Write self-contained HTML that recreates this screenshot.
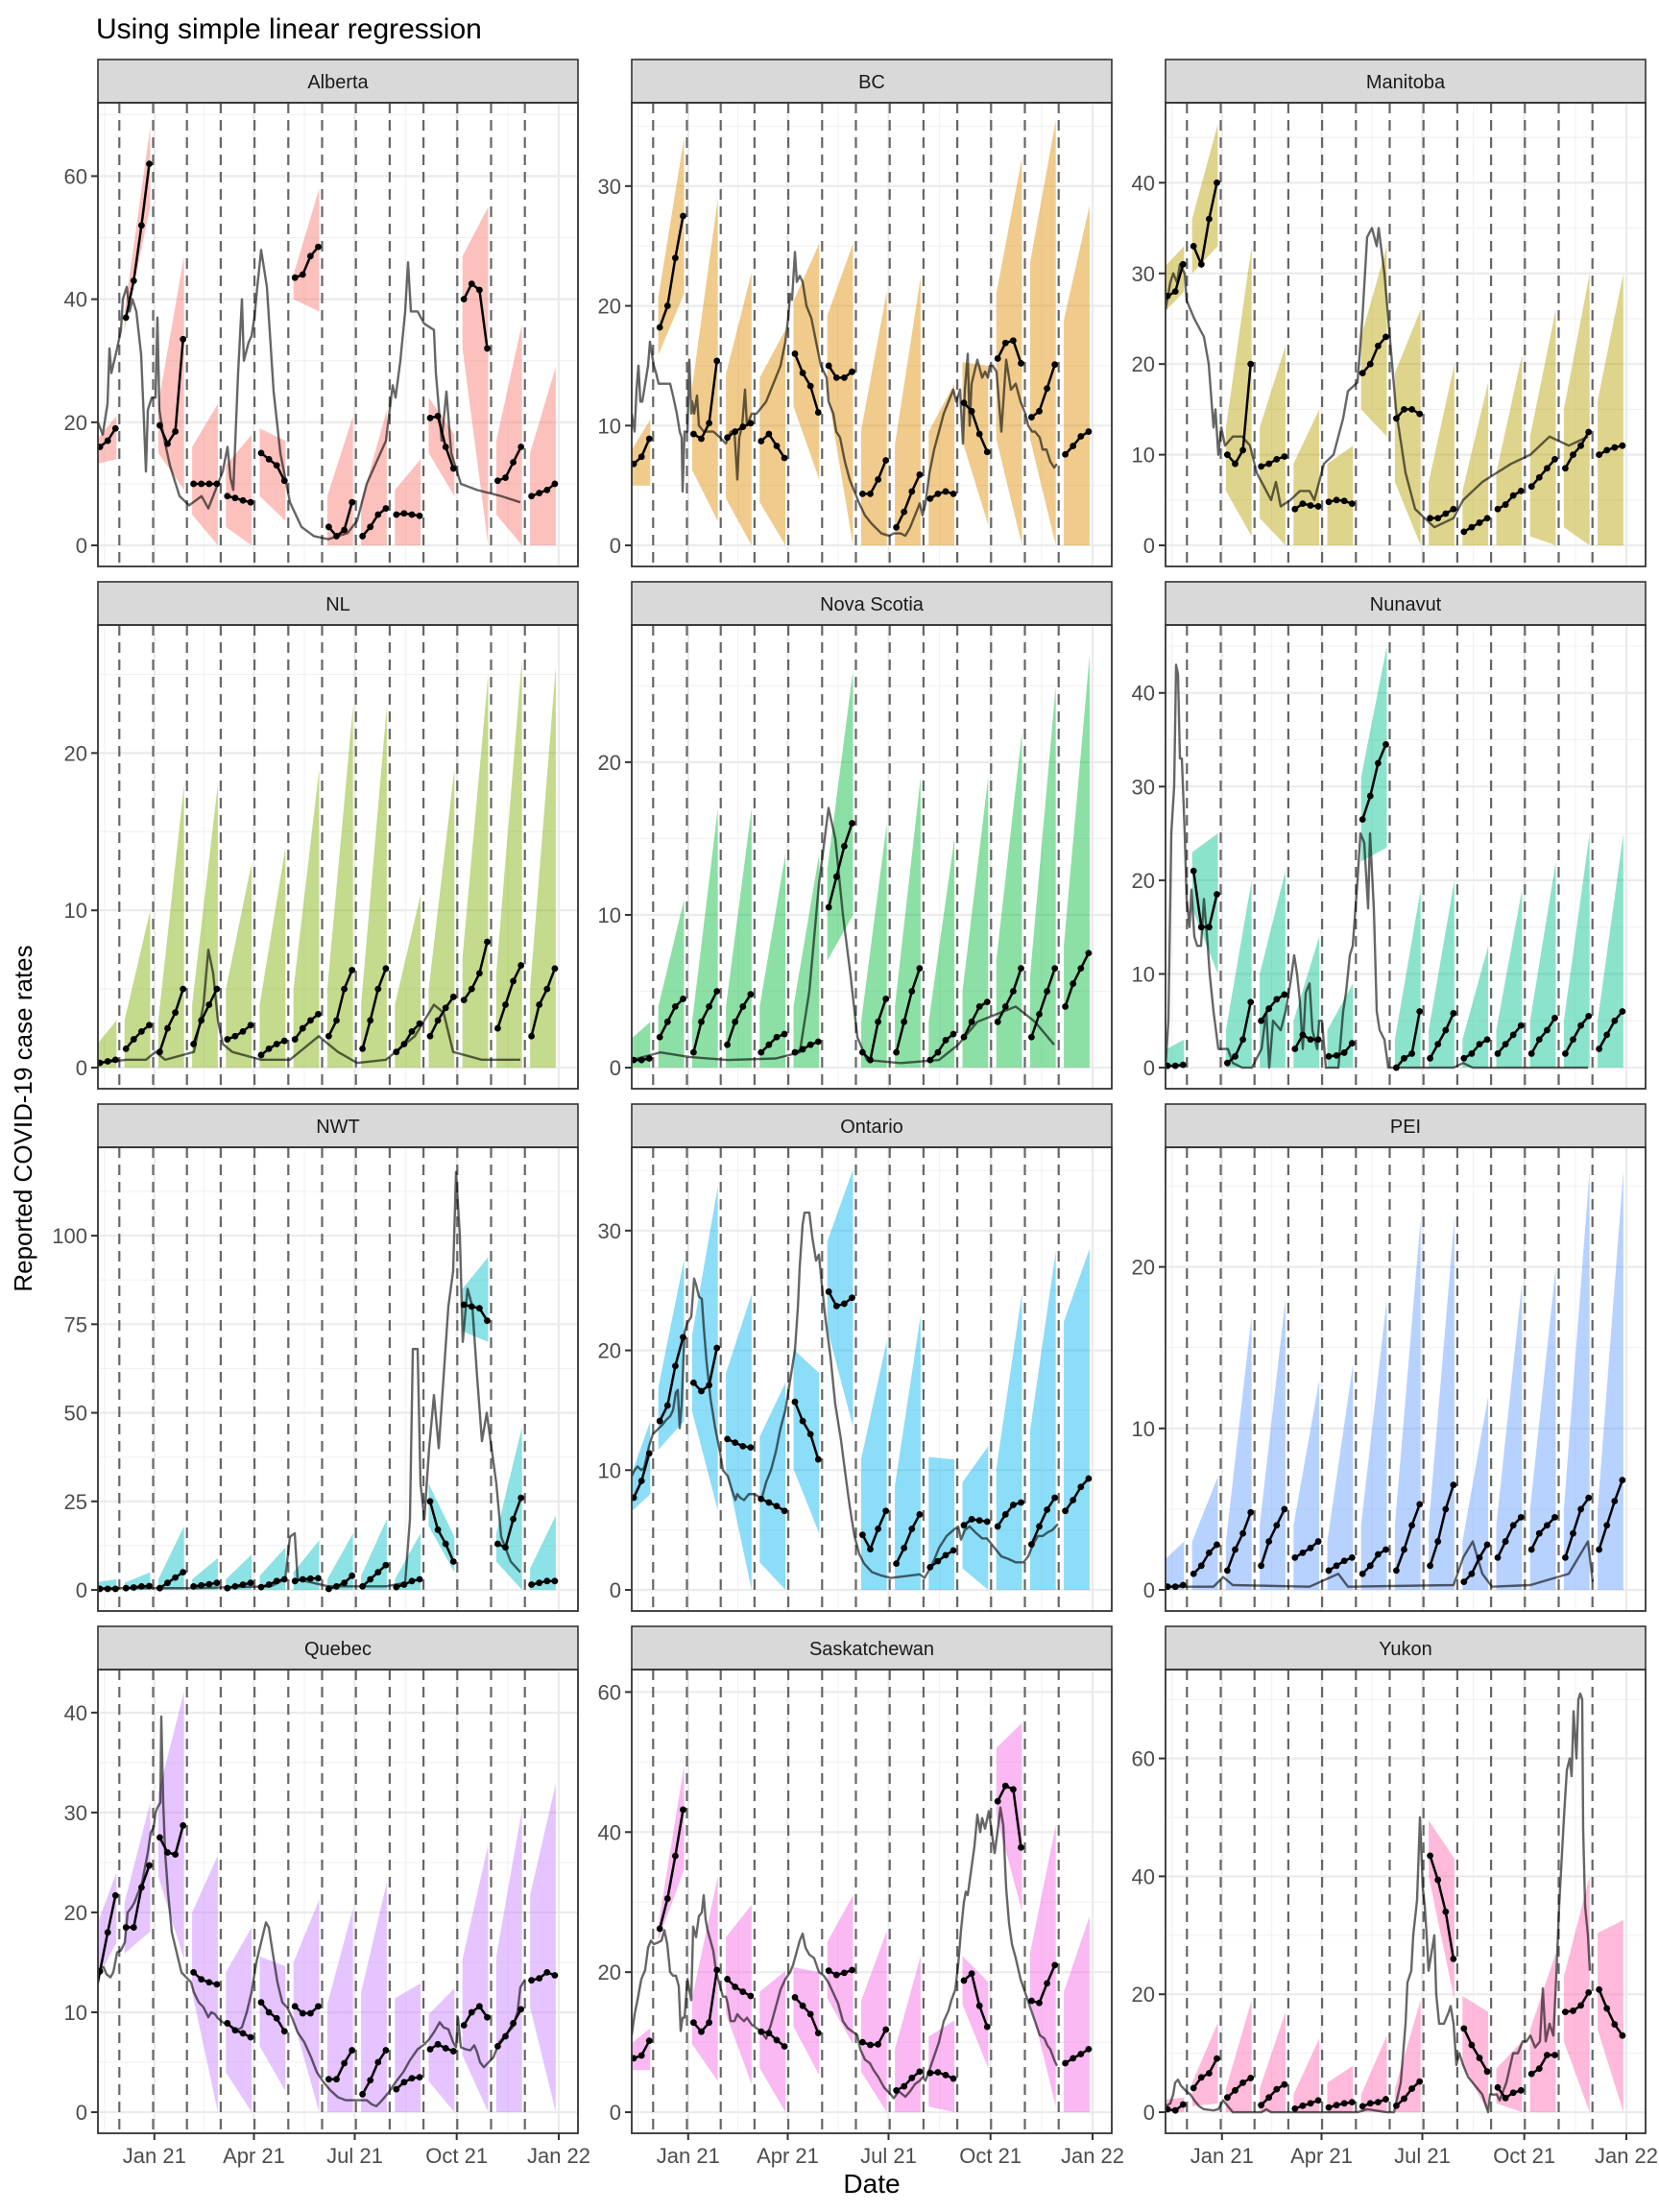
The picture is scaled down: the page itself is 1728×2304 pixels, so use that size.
<!DOCTYPE html>
<html><head><meta charset="utf-8">
<style>
html,body{margin:0;padding:0;background:#fff;}
svg{display:block;font-family:"Liberation Sans",Arial,sans-serif;}
</style></head>
<body>
<svg id="s" width="1728" height="2304" viewBox="0 0 1728 2304" xmlns="http://www.w3.org/2000/svg">
<rect width="1728" height="2304" fill="#fff"/>
<text x="100" y="40" font-size="30" fill="#000">Using simple linear regression</text>
<text x="908" y="2284" font-size="28" text-anchor="middle" fill="#000">Date</text>
<text transform="translate(33,1165) rotate(-90)" font-size="26" text-anchor="middle" fill="#000">Reported COVID-19 case rates</text>
</svg>
<script>
var svg=document.getElementById('s');
var NS='http://www.w3.org/2000/svg';
function el(t,a,p){var e=document.createElementNS(NS,t);for(var k in a)e.setAttribute(k,a[k]);(p||svg).appendChild(e);return e;}
var P=[
{n:"Alberta",c:"#F8766D",M:68.5,t:[0,20,40,60],
g:[[0,20],[5,18],[10,23],[12,32],[14,28],[20,32],[24,35],[26,40],[30,42],[33,38],[36,40],[40,38],[45,31],[48,20],[50,12],[52,22],[56,24],[60,24],[62,37],[64,22],[68,18],[75,13],[85,8],[95,6.5],[108,8],[115,6],[130,12],[135,16],[138,11],[141,9],[146,28],[150,40],[152,30],[157,33],[160,34],[163,37],[166,42],[170,48],[176,42],[183,25],[190,15],[200,7],[212,3],[225,1.5],[240,1],[260,2],[270,4],[280,10],[300,17],[307,26],[310,24],[315,30],[320,38],[323,46],[326,38],[333,38],[340,36],[350,35],[352,28],[358,17],[363,25],[368,15],[378,10],[395,9],[420,8],[440,7]],
s:[[15,16,17,19,13,16,14,21],[37,43,52,62,35,38,55,68],[19.5,16.5,18.5,33.5,15,23,9,47],[10,10,10,10,5,16,0,23],[8,7.7,7.3,7,3,13,0,18],[15,14,13,10.5,8,19,4,17],[43.5,44,47,48.5,40,44,38,58],[3,1.5,2.5,7,0,8,0,21],[1.5,3,5,6,0,7,0,22],[5,5.2,5,4.8,0,9,0,14],[20.7,21,16,12.5,15,24,8,18],[40,42.5,41.5,32,32,47,0,55],[10.5,11,13.5,16,5,17,0,36],[8,8.5,9,10,0,15,0,29]]},
{n:"BC",c:"#DE8C00",M:35.2,t:[0,10,20,30],
g:[[0,11],[3,9.5],[5,13],[7,15],[9,12],[11,12],[13,13],[15,14],[17,15],[19,17],[21,16],[23,15],[25,14.5],[28,13.5],[32,13.5],[36,13.5],[40,13.5],[43,12.5],[47,11],[50,9.5],[52,9],[53,4.5],[55,9.5],[58,9.5],[60,15.5],[62,11],[63,12],[65,11],[68,12.5],[70,10],[75,9.5],[85,9.5],[92,9],[98,8.5],[103,9.5],[107,9.5],[110,5.5],[112,9],[115,10],[118,13],[120,10],[125,11],[130,11],[135,11.5],[140,12],[145,13],[150,14],[155,15],[160,17],[163,19],[165,21],[167,20.5],[170,24.5],[172,22],[175,22.5],[178,22],[182,20],[187,19],[192,17],[197,15],[200,14.5],[203,14],[205,12],[210,11],[213,9.5],[217,9],[222,7],[227,5.5],[232,4.5],[237,3.5],[243,2.5],[250,1.8],[260,1],[268,0.8],[273,1],[280,1],[285,0.8],[290,1.5],[295,2.5],[300,3.5],[303,2.5],[306,3.5],[310,6],[315,8],[320,9.5],[325,11],[330,12],[335,13],[338,12],[342,13],[345,8.5],[347,13],[350,16],[352,10],[354,13.5],[357,14.5],[360,15.5],[365,14],[368,14.5],[371,14],[373,15],[376,15],[380,14.5],[385,9.5],[390,15.5],[395,13],[400,13.5],[405,12],[410,11],[413,10],[417,9.5],[420,9.5],[425,9],[428,8],[432,8],[436,7],[440,6.5],[443,6.8]],
s:[[6.5,6.8,7.4,8.9,5,7,5,10.5],[18.2,20,24,27.5,15.9,20.7,21,34],[9.3,8.9,10.2,15.4,6.3,13.2,2,29],[9,9.5,9.9,10.2,3.9,14.3,0,22.8],[8.7,9.3,8.3,7.3,3.6,14,0,18],[16,14.4,13.3,11.1,11.6,20.4,5.5,25.2],[15,14,14,14.5,12.9,19.2,0,25.2],[4.3,4.3,5.5,7.1,0,9.6,0,21.2],[1.5,2.8,4.5,5.9,0,8.4,0,22.4],[3.9,4.3,4.5,4.3,0,9.5,0,13.5],[11.9,11.2,9.3,7.8,8.7,15.3,1.7,15],[15.6,16.9,17.1,15.2,8.9,21,0,32.4],[10.7,11.2,13.1,15.1,8.9,23.6,0,35.5],[7.6,8.3,9.1,9.5,0,18.8,0,28.4]]},
{n:"Manitoba",c:"#B79F00",M:46.5,t:[0,10,20,30,40],
g:[[0,26],[5,29],[8,30],[12,29],[15,31],[20,30],[22,27],[30,25],[40,23],[45,20],[50,13],[52,15],[55,10],[58,13],[62,11],[70,12],[80,12],[88,11],[95,8],[100,7],[105,6],[110,5],[115,7],[120,4.3],[130,5],[140,6],[150,6],[155,5],[165,9],[175,10],[185,14],[190,17],[200,18],[205,25],[210,34],[215,35],[220,33],[222,35],[228,30],[232,25],[240,15],[250,8],[260,4],[270,3],[280,2],[290,2.5],[300,3],[310,5],[320,6],[330,7],[345,8],[360,9],[380,10],[400,12],[420,11],[440,12]],
s:[[27,27.5,28,31,25,30,28,33],[33,31,36,40,30,36,33,46.5],[10,9,10.5,20,6,13,1,33],[8.7,9,9.5,9.8,3,13,0,22],[4,4.6,4.4,4.3,0,9,0,15],[4.8,5,4.9,4.6,0,9,0,11],[19,20,22,23,15,23,12,33],[14,15,15,14.5,7,19,0,26],[3,3,3.5,4,0,7,0,20],[1.5,2,2.5,3,0,6,0,18],[4,4.5,5.5,6,0,8,0,21],[6.5,7.5,8.5,9.5,1,12,0,26],[8.5,10,11,12.5,2,15,0,30],[10,10.5,10.8,11,0,16,0,30]]},
{n:"NL",c:"#7CAE00",M:26.8,t:[0,10,20],
g:[[0,0.3],[30,0.5],[50,0.5],[60,1],[70,0.5],[100,1],[110,4],[115,7.5],[120,6],[125,3],[130,1.5],[140,1],[170,0.5],[200,0.5],[230,2],[250,1],[270,0.3],[300,0.5],[330,2],[350,4],[360,3.5],[370,1],[400,0.5],[440,0.5]],
s:[[0.2,0.3,0.4,0.5,0,1,0,3],[1.2,1.8,2.3,2.7,0,3,0,10],[1,2.5,3.5,5,0,3,0,18],[1.5,3,4,5,0,4,0,18],[1.8,2,2.3,2.7,0,5,0,13],[0.8,1.2,1.5,1.7,0,4,0,14],[1.8,2.5,3,3.4,0,5,0,19],[2,3,5,6.2,0,5,0,23],[1.2,3,5,6.3,0,4,0,23],[1,1.5,2.3,2.8,0,4,0,11],[2,3,3.8,4.5,0,5,0,19],[4.3,5,6,8,0,7,0,25],[2.5,4,5.5,6.5,0,6,0,26],[2,4,5,6.3,0,5,0,25.5]]},
{n:"Nova Scotia",c:"#00BA38",M:27.6,t:[0,10,20],
g:[[0,0.5],[30,1],[60,0.7],[100,0.5],[150,0.6],[175,1],[185,5],[195,12],[205,17],[212,15],[220,10],[228,6],[235,2],[245,0.5],[280,0.3],[320,0.5],[340,1.5],[360,3],[380,3.5],[400,4],[420,3],[440,1.5]],
s:[[0.4,0.5,0.5,0.6,0,1.5,0,3],[2,3,4,4.5,0,4,0,11],[1,3,4,5,0,3,0,17],[1.5,3,4,4.8,0,4,0,17],[1,1.5,2,2.2,0,4,0,14],[1,1.2,1.5,1.7,0,4,0,14],[10.5,12.5,14.5,16,7,13,10,26],[1,0.5,3,4.5,0,3,0,16],[1,3,5,6.5,0,4,0,19],[0.5,1,1.8,2.2,0,3,0,15],[2,3,4,4.3,0,5,0,19],[3,4,5,6.5,0,7,0,22],[2,3.5,5,6.5,0,6,0,25],[4,5.5,6.5,7.5,0,8,0,27]]},
{n:"Nunavut",c:"#00C08B",M:45,t:[0,10,20,30,40],
g:[[0,0],[3,5],[6,25],[9,30],[11,43],[13,42],[15,33],[17,33],[20,25],[22,18],[25,15],[27,19],[30,14],[33,13],[37,13],[40,18],[44,13],[46,10],[50,6],[55,2],[65,2],[70,0.5],[80,0],[90,0],[100,2],[105,6],[108,0],[112,5],[120,4],[125,6],[130,9],[134,12],[137,10],[140,7],[143,2],[146,8],[150,9],[153,4],[158,2],[160,5],[163,5],[167,0],[180,0],[185,6],[188,8],[192,12],[195,13],[200,20],[203,25],[207,24],[211,17],[213,25],[217,17],[220,6],[223,4],[228,3],[232,0],[300,0],[310,0.5],[320,0],[440,0]],
s:[[0.2,0.2,0.2,0.3,0,1.5,0,3],[21,15,15,18.5,17,23,10,25],[0.5,1.2,3,7,0,4,0,20],[5,6.3,7.3,7.8,0,10,0,21],[2,3.5,3,3,0,5,0,14],[1.2,1.3,1.6,2.6,0,4,0,9],[26.5,29,32.5,34.5,22,31,23.5,45],[0,1,1.5,6,0,3,0,19],[1,2.5,4,5.8,0,4,0,20],[1,1.5,2.5,3,0,3,0,13],[1.5,2.5,3.5,4.5,0,4,0,19],[1.5,3,4,5.3,0,5,0,22],[1.5,3,4.5,5.5,0,5,0,25],[2,3.5,5,6,0,5,0,25]]},
{n:"NWT",c:"#00BFC4",M:119,t:[0,25,50,75,100],
g:[[0,0.5],[100,0.5],[180,1],[195,3],[200,15],[205,16],[208,3],[240,1],[300,1],[320,2],[325,20],[328,68],[333,68],[336,30],[340,20],[345,40],[350,55],[355,40],[360,60],[365,80],[370,90],[373,118],[377,100],[380,70],[385,85],[390,80],[395,60],[400,42],[405,50],[410,40],[415,30],[420,15],[430,8],[440,5]],
s:[[0.3,0.3,0.3,0.3,0,2,0,3],[0.5,0.7,1,1.1,0,2,0,5],[0.5,2,3.5,5,0,3,0,18],[1,1.3,1.6,2,0,3,0,9],[0.5,1,1.5,2,0,3,0,10],[0.8,1.5,2.5,3,0,4,0,12],[2.5,3,3.2,3.3,0,5,0,14],[0.3,1,2,4,0,3,0,16],[1,3,5,7,0,4,0,20],[0.8,1.5,2.5,3,0,3,0,16],[25,17,13,8,18,30,5,15],[80.5,80,79.5,76,73,85,70,94],[13,12,20,26,8,16,0,46],[1.5,2,2.5,2.5,0,6,0,21]]},
{n:"Ontario",c:"#00B4F0",M:35.2,t:[0,10,20,30],
g:[[0,9.5],[3,10],[6,10.3],[10,10],[13,10.2],[18,12],[22,13],[27,13.4],[32,13.8],[36,14.2],[40,14.5],[43,15],[46,16.5],[48,16.7],[50,13.5],[52,15.5],[55,21.5],[58,22.3],[62,22.8],[65,26],[67,25.5],[70,24.5],[73,24.3],[75,22],[78,19],[82,16],[87,13.5],[92,11.5],[95,10],[100,9.5],[105,8.2],[108,7.5],[110,8],[113,7.7],[117,7.5],[122,8],[128,8],[132,7.8],[135,7.5],[140,9],[145,10],[150,11.5],[155,13.5],[160,15],[165,17.5],[170,20],[173,23.5],[175,27],[178,30.5],[180,31.5],[185,31.5],[188,29.5],[192,27.5],[195,28],[198,25.5],[202,22.5],[207,19.5],[212,15.5],[218,12.5],[222,10],[227,7],[232,4.5],[237,3],[242,2.2],[250,1.5],[260,1.2],[270,1],[280,1.1],[290,1.2],[300,1.3],[305,1],[310,1.7],[315,2.5],[320,3.5],[328,4.5],[335,5],[340,5.3],[343,4.2],[347,5],[352,5.3],[358,4.8],[365,4.3],[370,4.3],[375,3.8],[385,2.8],[392,2.6],[400,2.3],[408,2.3],[413,2.8],[418,3.8],[423,4.5],[428,4.5],[433,4.8],[438,5],[444,5.5]],
s:[[7,7.7,9.1,11.4,6,8,8,14.1],[14.1,15.4,18.7,21.1,11.7,16.9,14.1,27.6],[17.3,16.6,17.1,20.2,14.9,21.3,6.6,33.7],[12.6,12.3,12,11.9,10.1,18.1,0,24.7],[7.6,7.3,7,6.6,2.3,12.8,0,17.3],[15.7,14.1,13,10.9,10.1,20.1,4.7,18.1],[24.9,23.7,23.9,24.4,21.8,29.1,13.6,35.1],[4.6,3.4,5.1,6.6,0,10.9,0,20.8],[2.2,3.5,5.1,6.3,0,8.7,0,22.9],[1.9,2.4,2.9,3.3,0,11.1,0,10.9],[5.4,5.9,5.8,5.7,1.8,9,0,12],[5.3,6.3,7.1,7.3,0,10.1,0,24.8],[3.8,5.3,6.7,7.7,0,13.3,0,28.3],[6.6,7.5,8.6,9.3,0,22.4,0,28.5]]},
{n:"PEI",c:"#619CFF",M:26.1,t:[0,10,20],
g:[[0,0.2],[50,0.2],[60,0.8],[70,0.3],[150,0.2],[180,1],[190,0.2],[300,0.3],[310,2],[320,3],[330,1],[340,0.2],[380,0.3],[420,1],[440,3],[445,0.5]],
s:[[0.1,0.2,0.2,0.3,0,1.5,0,3],[1,1.5,2.3,2.8,0,3,0,7],[1.2,2.5,3.5,4.8,0,3,0,17],[1.5,3,4,5,0,4,0,18],[2,2.3,2.6,3,0,4,0,13],[1.2,1.5,1.8,2,0,3,0,14],[1,1.5,2.2,2.5,0,4,0,18],[1.2,2.5,4,5.3,0,4,0,23],[1.5,3,5,6.5,0,4,0,23],[0.5,1,2,2.8,0,3,0,12],[2,3,4,4.5,0,4,0,19],[2.5,3.5,4,4.5,0,5,0,20],[2,3.5,5,5.7,0,5,0,26],[2.5,4,5.5,6.8,0,5,0,26]]},
{n:"Quebec",c:"#C77CFF",M:42.2,t:[0,10,20,30,40],
g:[[0,14],[3,14.5],[6,14.5],[9,13.8],[13,13.5],[16,14],[20,16],[24,16.2],[28,17],[31,20],[35,20.5],[38,21],[42,22],[46,23],[48,24],[50,25],[52,26],[55,28],[58,28.5],[60,30],[62,30.5],[65,31],[66,39.6],[68,31],[70,26],[73,22],[77,18],[82,16],[87,14],[92,13.5],[97,13],[100,12],[105,11],[110,10.5],[115,9.5],[118,10],[122,9.8],[125,9.4],[130,9],[135,8.8],[140,8.5],[145,8.2],[150,8.5],[155,10],[160,12],[165,15],[170,17],[175,19],[178,18.5],[182,16],[187,13],[192,11],[197,10.5],[202,9.5],[208,8],[215,7],[222,5.5],[228,4],[235,3],[242,2.2],[250,1.5],[258,1.2],[266,1.2],[272,1.2],[280,1.2],[285,0.8],[290,0.6],[296,1.2],[303,2],[310,3],[318,4],[325,5.2],[333,6.3],[340,6.8],[345,7.3],[350,8],[356,9],[360,8.5],[365,8.3],[370,7],[373,6.5],[375,9.5],[378,6.5],[383,6.3],[388,6.2],[392,6.7],[395,6],[398,5],[402,4.5],[407,5],[412,5.5],[418,7],[425,7.8],[432,8.5],[437,10],[440,12.5],[445,13.3]],
s:[[10,14.1,18,21.7,12,17,17,24],[18.5,18.5,22.5,24.7,15.9,21,18.1,31],[27.5,26,25.8,28.7,23.6,31.9,15.3,42.1],[14,13.3,13,12.8,12,20,0,25.7],[8.9,8.2,7.9,7.5,4,14,0,18.5],[11,10,9.4,8.1,6.6,15.6,2.1,14.6],[10.6,9.9,9.9,10.6,9.2,15,0,21.3],[3.3,3.3,4.9,6.2,0,10.8,0,20.4],[1.8,3.2,5,6.2,0,12,0,23],[2.3,3,3.4,3.5,0,11.4,0,12.9],[6.3,6.8,6.4,6.1,3.1,9.8,0,12.4],[8.7,10,10.6,9.5,5.7,15.3,0,26.8],[6.6,7.6,8.9,10.3,0,15.6,0,30.3],[13.2,13.4,14,13.7,10.5,21.7,0,32.9]]},
{n:"Saskatchewan",c:"#F564E3",M:60.2,t:[0,20,40,60],
g:[[0,11],[3,14],[6,16],[10,19],[14,20.3],[17,23.5],[20,24.5],[23,24],[27,24.2],[31,24.5],[34,26],[37,24],[40,20],[43,19.5],[46,19.5],[49,18],[51,11.6],[53,13.5],[55,13.5],[58,19],[62,16],[64,26.5],[67,25],[70,28],[73,28.5],[75,31],[77,27.5],[79,26],[82,24.5],[85,23],[88,20],[92,18],[95,16.5],[98,16.5],[100,15.5],[103,13],[107,13],[110,14],[113,13.5],[117,13],[120,13.5],[125,12.5],[130,12],[135,11.5],[140,10.5],[145,12.5],[150,15],[155,17.5],[160,19],[165,20],[168,21],[172,23],[175,24.5],[178,25.5],[181,23.5],[185,22.5],[190,22],[195,20],[200,19.5],[205,18.5],[210,17],[215,15.5],[220,13],[225,12],[230,11.5],[235,11],[238,9],[243,7.5],[248,7],[252,6],[257,5],[263,3.5],[270,2.5],[273,2],[278,3],[285,2.2],[290,3],[295,4],[300,4.5],[303,5],[306,4.5],[310,6],[315,8],[320,10],[325,13],[330,14.5],[333,16],[337,17.5],[340,21],[343,26],[346,30],[348,31.5],[350,31],[353,34],[357,38],[360,42.5],[363,40],[365,42],[368,40.5],[372,43],[375,40],[378,37],[381,40],[384,43.5],[387,41],[390,32],[393,27],[396,24],[400,22],[405,19],[410,17],[415,15],[420,13],[425,11],[430,10.5],[433,9.5],[436,9],[440,7.5],[443,6.6]],
s:[[7.5,7.7,8.1,10.2,6,9,6,12],[26.2,30.5,36.6,43.2,24.6,26.8,34.6,49.5],[12.8,11.5,12.8,20.3,9.7,16.3,4.4,33.7],[19,17.9,17.2,16.6,14,25,4,29.6],[11.5,11.3,10.3,9.4,6.3,17.2,0,20.2],[16.4,15.2,14,11.3,12.2,20.7,5.3,20],[20.2,19.6,19.9,20.3,16.3,24.3,9.7,31],[10,9.6,9.7,11.8,5.8,15.9,0,25.9],[3.1,3.7,4.9,5.8,0,9,0,22.3],[5.6,5.7,5.3,4.8,0.8,10.8,0,13.1],[18.8,19.8,15.2,12.2,15.4,22.3,6.3,18.6],[44.4,46.6,46.1,37.8,42.4,52,28.7,55.6],[15.9,15.6,18.4,21,15.9,22.7,0.8,41],[7,7.7,8.3,9,0,17.2,0,28]]},
{n:"Yukon",c:"#FF64B0",M:71.5,t:[0,20,40,60],
g:[[0,1],[5,1.5],[8,3],[10,5],[13,5.5],[16,4.5],[19,4],[22,3.5],[26,3],[30,2],[35,1],[40,0.5],[50,0.3],[55,0.5],[60,2],[70,0],[100,0],[105,0.5],[110,0],[200,0],[210,0.5],[230,0],[238,0],[245,5],[250,15],[252,22],[256,24],[258,30],[262,36],[265,50],[268,38],[270,35],[272,30],[274,24],[278,28],[280,30],[282,20],[285,15],[290,15],[295,17],[297,18],[300,15],[303,8],[306,10],[310,8],[315,6],[325,4],[330,3],[336,0],[338,3],[345,3],[348,2],[355,5],[362,10],[367,10],[372,12],[376,12],[380,13],[385,11],[390,12],[393,21],[396,12],[400,15],[404,13],[407,23],[410,35],[415,50],[418,58],[421,60],[423,57],[425,68],[428,60],[430,70],[432,71],[434,70],[435,48],[437,35],[440,30],[442,24]],
s:[[0.7,0.5,0.3,1.3,0,2,0,2.5],[4.1,5.9,6.6,9.1,1,5,1.5,15.2],[2.5,3.7,5,5.8,0,4,0,19],[1.2,2.5,3.9,4.7,0,4,0,17],[0.6,1.1,1.5,2,0,3,0,12.5],[0.8,1.2,1.5,1.7,0,5,0,7.9],[1,1.5,1.7,2.2,0,3,0,13],[1.1,2.3,4,5.2,0,4,0,19],[43.5,39.4,34,26,40,49.5,19,43],[14.2,11.4,9.2,6.9,8,19.7,0,17],[4.2,2.4,3.3,3.7,1.5,7.4,0,12],[6.5,7.4,9.7,9.7,0,14,0,27],[17,17.2,18.1,20.3,12,23,0,40],[20.8,17.6,14.9,13,14,30.4,0,32.6]]}
];
var W=500,H=483,majX=[58.8,162.5,267.5,373.7,480],minX=[6.8,110.6,215,320.6,427];
var lab=["Jan 21","Apr 21","Jul 21","Oct 21","Jan 22"];
P.forEach(function(p,i){
 var col=i%3,row=Math.floor(i/3);
 var x0=102+556*col,y0=107+544*row,M=p.M;
 function Y(v){return y0+H*(1.05*M-v)/(1.1*M);}
 function X(x){return x0+x;}
 el('rect',{x:x0,y:y0-45,width:W,height:45,fill:'#D9D9D9',stroke:'#333','stroke-width':1.6});
 el('text',{x:x0+W/2,y:y0-15,'font-size':20,'text-anchor':'middle',fill:'#1A1A1A'}).textContent=p.n;
 var cid='c'+i;
 var cp=el('clipPath',{id:cid});el('rect',{x:x0,y:y0,width:W,height:H},cp);
 var g=el('g',{'clip-path':'url(#'+cid+')'});
 var st=p.t[1]-p.t[0];
 for(var k=0;k<p.t.length+1;k++){var v=p.t[0]+st*(k+0.5);if(v<1.05*M)el('line',{x1:x0,x2:x0+W,y1:Y(v),y2:Y(v),stroke:'#F2F2F2','stroke-width':1.2},g);}
 minX.forEach(function(x){el('line',{x1:X(x),x2:X(x),y1:y0,y2:y0+H,stroke:'#F2F2F2','stroke-width':1.2},g);});
 p.t.forEach(function(v){el('line',{x1:x0,x2:x0+W,y1:Y(v),y2:Y(v),stroke:'#EBEBEB','stroke-width':2.2},g);});
 majX.forEach(function(x){el('line',{x1:X(x),x2:X(x),y1:y0,y2:y0+H,stroke:'#EBEBEB','stroke-width':2.2},g);});
 p.s.forEach(function(s,k){
  var d=22.3+35.2*k,xs=[0,1,2,3].map(function(j){return d-4-8.1*(3-j);});
  var a=xs[0]-1.5,b=xs[3]+1;
  el('polygon',{points:X(a)+','+Y(s[4])+' '+X(b)+','+Y(s[6])+' '+X(b)+','+Y(s[7])+' '+X(a)+','+Y(s[5]),fill:p.c,'fill-opacity':0.45},g);
 });
 for(var k=0;k<13;k++){var d=22.3+35.2*k;el('line',{x1:X(d),x2:X(d),y1:y0,y2:y0+H,stroke:'#666','stroke-width':2.2,'stroke-dasharray':'11,7'},g);}
 el('polyline',{points:p.g.map(function(q){return X(q[0])+','+Y(q[1]);}).join(' '),fill:'none',stroke:'#000','stroke-opacity':0.6,'stroke-width':2.4,'stroke-linejoin':'round'},g);
 p.s.forEach(function(s,k){
  var d=22.3+35.2*k,xs=[0,1,2,3].map(function(j){return d-4-8.1*(3-j);});
  el('polyline',{points:xs.map(function(x,j){return X(x)+','+Y(s[j]);}).join(' '),fill:'none',stroke:'#000','stroke-width':2.5},g);
  xs.forEach(function(x,j){el('circle',{cx:X(x),cy:Y(s[j]),r:3.4,fill:'#000'},g);});
 });
 el('rect',{x:x0,y:y0,width:W,height:H,fill:'none',stroke:'#333','stroke-width':1.8});
 p.t.forEach(function(v){
  el('line',{x1:x0-7,x2:x0,y1:Y(v),y2:Y(v),stroke:'#333','stroke-width':2});
  el('text',{x:x0-11,y:Y(v)+8,'font-size':22,'text-anchor':'end',fill:'#4D4D4D'}).textContent=v;
 });
 if(row==3){
  majX.forEach(function(x,j){
   el('line',{x1:X(x),x2:X(x),y1:y0+H,y2:y0+H+7,stroke:'#333','stroke-width':2});
   el('text',{x:X(x),y:y0+H+31,'font-size':22,'text-anchor':'middle',fill:'#4D4D4D'}).textContent=lab[j];
  });
 }
});
</script>
</body></html>
